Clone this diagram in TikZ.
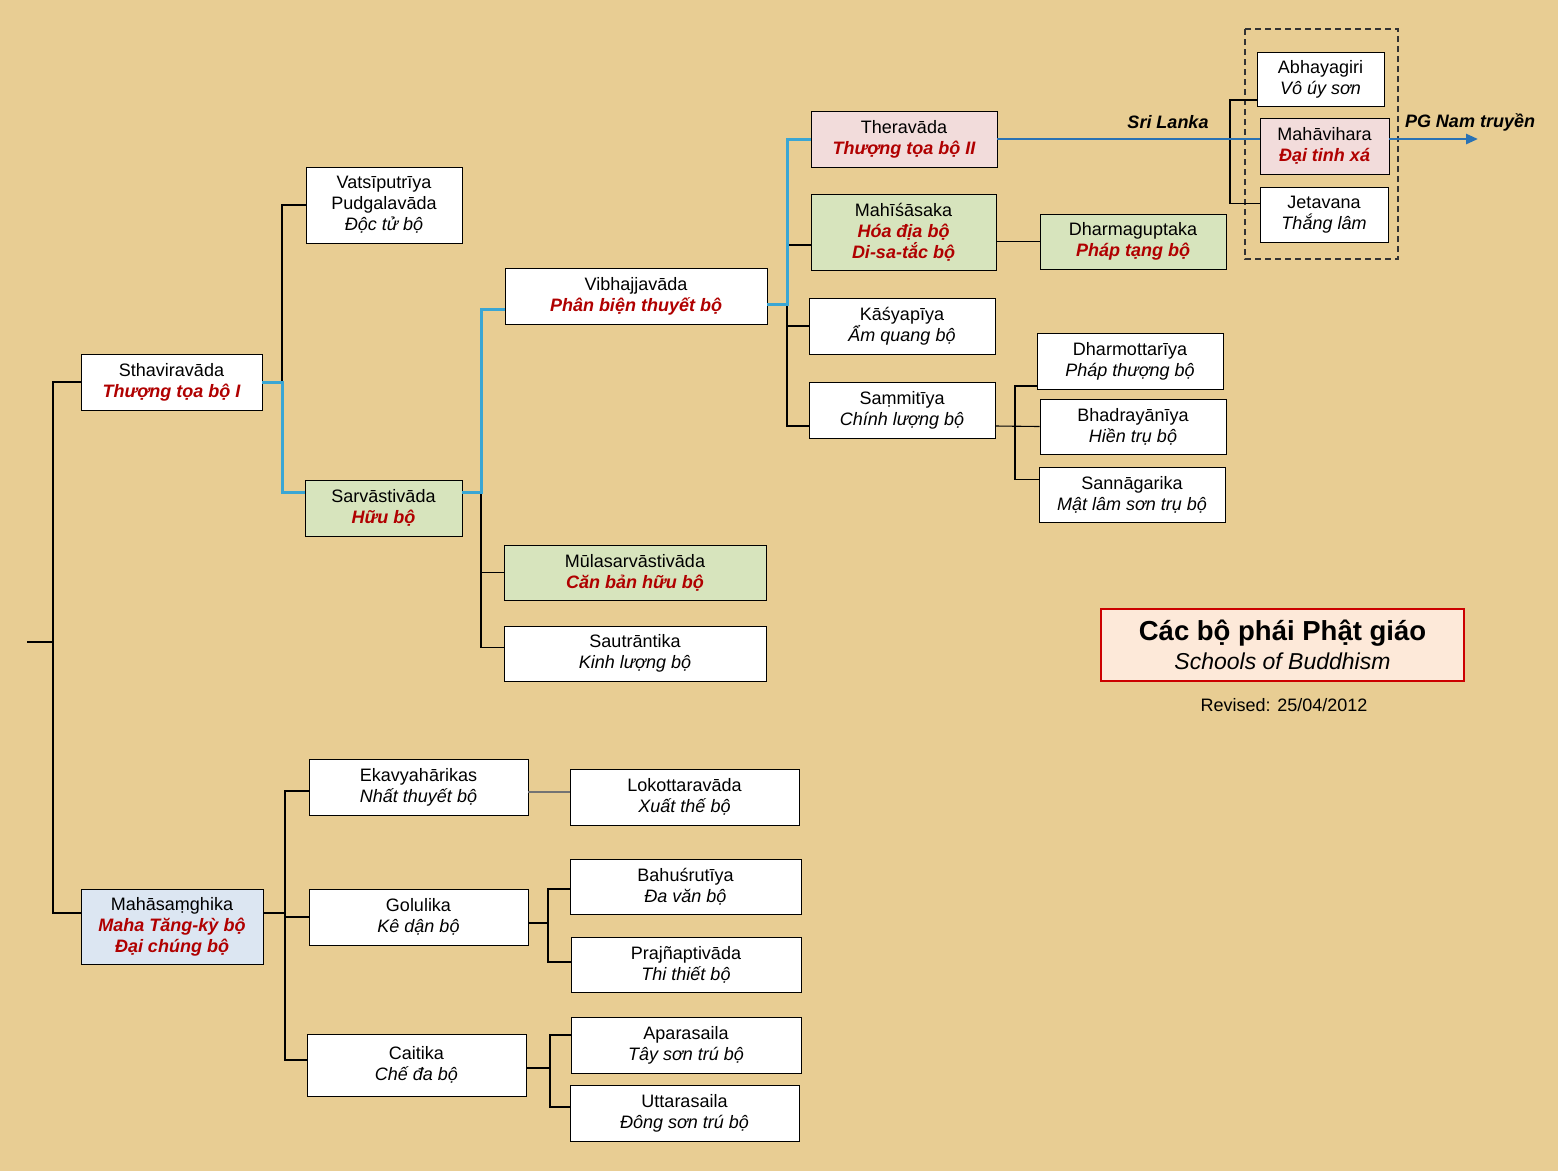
\documentclass[tikz,border=0pt]{standalone}
\usepackage{fontspec}
\setmainfont{Liberation Sans}
\usetikzlibrary{arrows.meta}

\definecolor{paper}{HTML}{E8CD93}
\definecolor{tred}{HTML}{B00000}
\definecolor{gfill}{HTML}{D7E4BD}
\definecolor{pfill}{HTML}{F2DCDB}
\definecolor{bfill}{HTML}{DCE6F2}
\definecolor{tfill}{HTML}{FDE9D9}
\definecolor{mainline}{HTML}{3AA6D4}
\definecolor{arrowline}{HTML}{2A72B4}

\newcommand{\vnred}[1]{\textcolor{tred}{\bfseries\itshape #1}}
\newcommand{\vnit}[1]{\textit{#1}}

\tikzset{
  school/.style={draw=black, line width=0.9pt, fill=white, align=center, inner sep=0pt,
                 font=\fontsize{18}{21}\selectfont},
  greenschool/.style={school, fill=gfill},
  pinkschool/.style={school, fill=pfill},
  blueschool/.style={school, fill=bfill},
  tree/.style={draw=black, line width=1.1pt},
  mainpath/.style={draw=mainline, line width=3pt},
}

\begin{document}
\begin{tikzpicture}[x=1pt, y=-1pt]
        % background
        \fill[paper] (0,0) rectangle (1558,1171);

        % schools
        \node[school, minimum width=181pt, minimum height=56pt] (sthav) at (171.5,382) {Sthaviravāda\\\vnred{Thượng tọa bộ I}};
        \node[blueschool, minimum width=182pt, minimum height=75pt] (maha) at (172,926.5) {Mahāsaṃghika\\\vnred{Maha Tăng-kỳ bộ}\\\vnred{Đại chúng bộ}};
        \node[school, minimum width=156pt, minimum height=76pt] (vats) at (384,205) {Vatsīputrīya\\Pudgalavāda\\\vnit{Độc tử bộ}};
        \node[greenschool, minimum width=157pt, minimum height=56pt] (sarva) at (383.5,508) {Sarvāstivāda\\\vnred{Hữu bộ}};
        \node[school, minimum width=262pt, minimum height=56pt] (vibh) at (636,296) {Vibhajjavāda\\\vnred{Phân biện thuyết bộ}};
        \node[greenschool, minimum width=262pt, minimum height=55pt] (mula) at (635,572.5) {Mūlasarvāstivāda\\\vnred{Căn bản hữu bộ}};
        \node[school, minimum width=262pt, minimum height=55pt] (saut) at (635,653.5) {Sautrāntika\\\vnit{Kinh lượng bộ}};
        \node[pinkschool, minimum width=186pt, minimum height=56pt] (thera) at (904,139) {Theravāda\\\vnred{Thượng tọa bộ II}};
        \node[greenschool, minimum width=185pt, minimum height=76pt] (mahi) at (903.5,232) {Mahīśāsaka\\\vnred{Hóa địa bộ}\\\vnred{Di-sa-tắc bộ}};
        \node[greenschool, minimum width=186pt, minimum height=55pt] (dharmag) at (1133,241.5) {Dharmaguptaka\\\vnred{Pháp tạng bộ}};
        \node[school, minimum width=186pt, minimum height=56pt] (kasy) at (902,326) {Kāśyapīya\\\vnit{Ẩm quang bộ}};
        \node[school, minimum width=186pt, minimum height=56pt] (samm) at (902,410) {Saṃmitīya\\\vnit{Chính lượng bộ}};
        \node[school, minimum width=186pt, minimum height=56pt] (dharmo) at (1130,361) {Dharmottarīya\\\vnit{Pháp thượng bộ}};
        \node[school, minimum width=186pt, minimum height=55pt] (bhadra) at (1133,426.5) {Bhadrayānīya\\\vnit{Hiền trụ bộ}};
        \node[school, minimum width=186pt, minimum height=55pt] (sanna) at (1132,494.5) {Sannāgarika\\\vnit{Mật lâm sơn trụ bộ}};
        \node[school, minimum width=127pt, minimum height=54pt] (abhaya) at (1320.5,79) {Abhayagiri\\\vnit{Vô úy sơn}};
        \node[pinkschool, minimum width=129pt, minimum height=56pt] (mahav) at (1324.5,146) {Mahāvihara\\\vnred{Đại tinh xá}};
        \node[school, minimum width=128pt, minimum height=55pt] (jeta) at (1324,214.5) {Jetavana\\\vnit{Thắng lâm}};
        \node[school, minimum width=219pt, minimum height=56pt] (ekav) at (418.5,787) {Ekavyahārikas\\\vnit{Nhất thuyết bộ}};
        \node[school, minimum width=229pt, minimum height=56pt] (loko) at (684.5,797) {Lokottaravāda\\\vnit{Xuất thế bộ}};
        \node[school, minimum width=219pt, minimum height=56pt] (golu) at (418.5,917) {Golulika\\\vnit{Kê dận bộ}};
        \node[school, minimum width=231pt, minimum height=55pt] (bahu) at (685.5,886.5) {Bahuśrutīya\\\vnit{Đa văn bộ}};
        \node[school, minimum width=230pt, minimum height=55pt] (praj) at (686,964.5) {Prajñaptivāda\\\vnit{Thi thiết bộ}};
        \node[school, minimum width=219pt, minimum height=62pt] (cait) at (416.5,1065) {Caitika\\\vnit{Chế đa bộ}};
        \node[school, minimum width=230pt, minimum height=56pt] (apara) at (686,1045) {Aparasaila\\\vnit{Tây sơn trú bộ}};
        \node[school, minimum width=229pt, minimum height=56pt] (uttara) at (684.5,1113) {Uttarasaila\\\vnit{Đông sơn trú bộ}};

        % Sri Lanka group
        \draw[line width=1.1pt, dashed, dash pattern=on 6pt off 4pt, black!80] (1245,29) rectangle (1398,259);

        % bus lines
        \coordinate (root) at (27,642);
        \coordinate (b1) at (53,642);
        \coordinate (b2) at (282,0);
        \coordinate (b3) at (481,0);
        \coordinate (b4) at (787,0);
        \coordinate (b5) at (1015,0);
        \coordinate (b6) at (1230,0);
        \coordinate (b7) at (285,0);
        \coordinate (b8) at (548,0);
        \coordinate (b9) at (550,0);
        \coordinate (tipend) at (1478,139);

        \draw[tree] (root) -- (b1);
        \draw[tree] (sthav.west) -| (b1) |- ([yshift=13.5pt]maha.west);

        \draw[tree] (sthav.east) -- (sthav.east -| b2);
        \draw[tree] (vats.west) -- (vats.west -| b2) |- ([yshift=16pt]sarva.west);

        \draw[tree] ([yshift=16pt]sarva.east) -- ([yshift=16pt]sarva.east -| b3) |- ([yshift=6pt]saut.west);
        \draw[tree] (mula.west) -- (mula.west -| b3);

        \draw[tree] (thera.west) -- (thera.west -| b4) |- ([yshift=-16pt]samm.west);
        \draw[tree] ([yshift=-13pt]mahi.west) -- ([yshift=-13pt]mahi.west -| b4);
        \draw[tree] (kasy.west) -- (kasy.west -| b4);
        \draw[tree] (dharmag.west) -- (dharmag.west -| mahi.east);

        \draw[tree] ([yshift=-16pt]samm.east) -- (bhadra.west);
        \draw[tree] ([yshift=-25pt]dharmo.west) -- ([yshift=-25pt]dharmo.west -| b5) |- ([yshift=15pt]sanna.west);

        \draw[tree] ([yshift=-21pt]abhaya.west) -- ([yshift=-21pt]abhaya.west -| b6) |- ([yshift=11pt]jeta.west);

        \draw[tree] ([yshift=13.5pt]maha.east) -- ([yshift=13.5pt]maha.east -| b7);
        \draw[tree] ([yshift=-4pt]ekav.west) -- ([yshift=-4pt]ekav.west -| b7) |- ([yshift=5pt]cait.west);
        \draw[tree] (golu.west) -- (golu.west -| b7);
        \draw[line width=1.3pt, black!55] ([yshift=-5pt]ekav.east) -- ([yshift=-5pt]ekav.east -| loko.west);

        \draw[tree] ([yshift=-6pt]golu.east) -- ([yshift=-6pt]golu.east -| b8);
        \draw[tree] ([yshift=-2.5pt]bahu.west) -- ([yshift=-2.5pt]bahu.west -| b8) |- ([yshift=2.5pt]praj.west);

        \draw[tree] ([yshift=-3pt]cait.east) -- ([yshift=-3pt]cait.east -| b9);
        \draw[tree] ([yshift=10pt]apara.west) -- ([yshift=10pt]apara.west -| b9) |- ([yshift=6pt]uttara.west);

        % main line of descent
        \draw[mainpath] (sthav.east) -| ([yshift=16pt]sarva.west -| b2) -- ([yshift=16pt]sarva.west);
        \draw[mainpath] ([yshift=16pt]sarva.east) -| ([yshift=-13pt]vibh.west -| b3) -- ([yshift=-13pt]vibh.west);
        \draw[mainpath] ([yshift=-8pt]vibh.east) -| (thera.west -| b4) -- (thera.west);
        \draw[line width=2.6pt, arrowline] (thera.east) -- ([yshift=7pt]mahav.west);
        \draw[line width=2.6pt, arrowline, -{Triangle[length=12pt, width=10pt]}] ([yshift=7pt]mahav.east) -- (tipend);

        % labels
        \node[font=\fontsize{18}{21}\selectfont\bfseries\itshape] (srilanka) at (1168,122) {Sri Lanka};
        \node[font=\fontsize{18}{21}\selectfont\bfseries\itshape] (nam) at (1470,122) {PG Nam truyền};

        % title
        \node[draw=red!80!black, line width=2pt, fill=tfill, minimum width=363pt, minimum height=72pt, align=center, inner sep=0pt,
              font=\fontsize{23}{29}\selectfont] (title) at (1282.5,645)
            {{\fontsize{27.5}{29}\selectfont\bfseries Các bộ phái Phật giáo}\\{\itshape Schools of Buddhism}};
        \node[font=\fontsize{18}{21}\selectfont] (revised) at (1284,705) {Revised: 25/04/2012};
\end{tikzpicture}
\end{document}
